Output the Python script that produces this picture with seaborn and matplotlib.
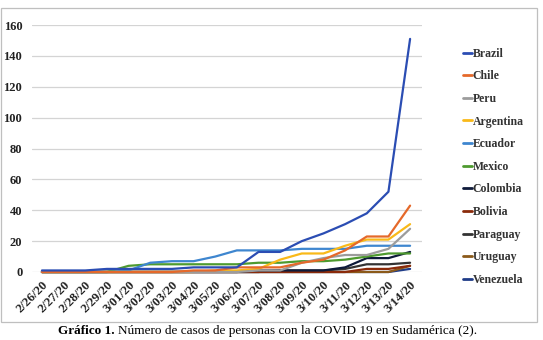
import matplotlib
matplotlib.use("Agg")
import matplotlib.pyplot as plt
import seaborn as sns
import pandas as pd
from matplotlib.patches import Rectangle

dates = ['2/26/20', '2/27/20', '2/28/20', '2/29/20', '3/01/20', '3/02/20', '3/03/20',
         '3/04/20', '3/05/20', '3/06/20', '3/07/20', '3/08/20', '3/09/20', '3/10/20',
         '3/11/20', '3/12/20', '3/13/20', '3/14/20']

brazil    = [1, 1, 1, 2, 2, 2, 2, 3, 3, 3, 13, 13, 20, 25, 31, 38, 52, 151]
chile     = [0, 0, 0, 0, 0, 0, 0, 1, 1, 3, 3, 3, 6, 8, 14, 23, 23, 43]
peru      = [0, 0, 0, 0, 0, 0, 0, 0, 0, 0, 1, 1, 6, 9, 11, 11, 15, 28]
argentina = [0, 0, 0, 0, 0, 0, 0, 0, 1, 1, 2, 8, 12, 12, 17, 21, 21, 31]
ecuador   = [0, 0, 0, 0, 1, 6, 7, 7, 10, 14, 14, 14, 15, 15, 15, 17, 17, 17]
mexico    = [0, 0, 0, 0, 4, 5, 5, 5, 5, 5, 6, 6, 7, 7, 8, 10, 12, 12]
colombia  = [0, 0, 0, 0, 0, 0, 0, 0, 0, 0, 1, 1, 1, 1, 3, 9, 9, 13]
bolivia   = [0, 0, 0, 0, 0, 0, 0, 0, 0, 0, 0, 0, 0, 0, 0, 2, 2, 4]
paraguay  = [0, 0, 0, 0, 0, 0, 0, 0, 0, 0, 0, 1, 1, 1, 2, 5, 5, 6]
uruguay   = [0, 0, 0, 0, 0, 0, 0, 0, 0, 0, 0, 0, 0, 0, 0, 0, 0, 4]
venezuela = [0, 0, 0, 0, 0, 0, 0, 0, 0, 0, 0, 0, 0, 0, 0, 0, 0, 2]

countries = ['Brazil', 'Chile', 'Peru', 'Argentina', 'Ecuador', 'Mexico',
             'Colombia', 'Bolivia', 'Paraguay', 'Uruguay', 'Venezuela']
series = [brazil, chile, peru, argentina, ecuador, mexico,
          colombia, bolivia, paraguay, uruguay, venezuela]
colors = ['#2B4DB3', '#E5692A', '#9C9C9C', '#F9B919', '#3E86CF', '#4E9A2F',
          '#0E1A3A', '#8A2A0A', '#333333', '#8B5A1A', '#1F3C88']

yticks = [0, 20, 40, 60, 80, 100, 120, 140, 160]

rows = []
for c, vals in zip(countries, series):
    for i, v in enumerate(vals):
        rows.append({'idx': i, 'date': dates[i], 'country': c, 'cases': v})
df = pd.DataFrame(rows)

sns.set_theme(style="white")
plt.rcParams['font.family'] = ['Liberation Serif', 'DejaVu Serif']

fig = plt.figure(figsize=(5.43, 3.40), dpi=100)
W, H = 543, 340
ax = fig.add_axes([32 / W, (H - 272) / H, 390 / W, 247 / H])

# draw in reverse so Brazil is on top
for c in countries[::-1]:
    i = countries.index(c)
    sub = df[df['country'] == c]
    sns.lineplot(data=sub, x='idx', y='cases', color=colors[i], lw=1.6,
                 ax=ax, legend=False, clip_on=False, zorder=3)

ax.set_xlim(-0.46, 17.55)
ax.set_ylim(0, 160)
ax.set_yticks(yticks)
ax.set_yticklabels([str(t) for t in yticks], fontsize=9, fontweight='bold', color='#222222')
ax.set_xticks(range(len(dates)))
ax.set_xticklabels(dates, rotation=45, ha='right', va='top', rotation_mode='anchor',
                   fontsize=9.3, fontweight='bold', color='#222222')
ax.tick_params(axis='x', length=0, pad=5)
ax.tick_params(axis='y', length=0, pad=7)
ax.grid(axis='y', color='#D4D4D4', lw=0.9)
ax.grid(axis='x', visible=False)
for s in ax.spines.values():
    s.set_visible(False)
ax.set_xlabel('')
ax.set_ylabel('')
ax.set_axisbelow(True)

handles = [plt.Line2D([], [], color=col, lw=2) for col in colors]
leg = fig.legend(handles, countries, loc='upper left',
                 bbox_to_anchor=(458 / W, (H - 43) / H), frameon=False,
                 handlelength=0.75, handletextpad=0.1, labelspacing=0.9,
                 borderaxespad=0, prop={'family': 'Liberation Serif', 'size': 8.5, 'weight': 'bold'})
for t in leg.get_texts():
    t.set_color('#333333')

# outer frame
fig.patches.append(Rectangle((1 / W, (H - 322) / H), 536 / W, 314 / H,
                             transform=fig.transFigure, fill=False,
                             edgecolor='#BFBFBF', lw=0.9))

# caption
fig.canvas.draw()
r = fig.canvas.get_renderer()
t1 = fig.text(58 / W, (H - 331) / H, 'Gráfico 1.', fontsize=9.5, fontweight='bold',
              ha='left', va='center', color='black')
bb = t1.get_window_extent(renderer=r)
fig.text((bb.x1 + 3) / W, (H - 331) / H,
         'Número de casos de personas con la COVID 19 en Sudamérica (2).',
         fontsize=9.5, ha='left', va='center', color='black')

fig.savefig('out.png', dpi=100)
